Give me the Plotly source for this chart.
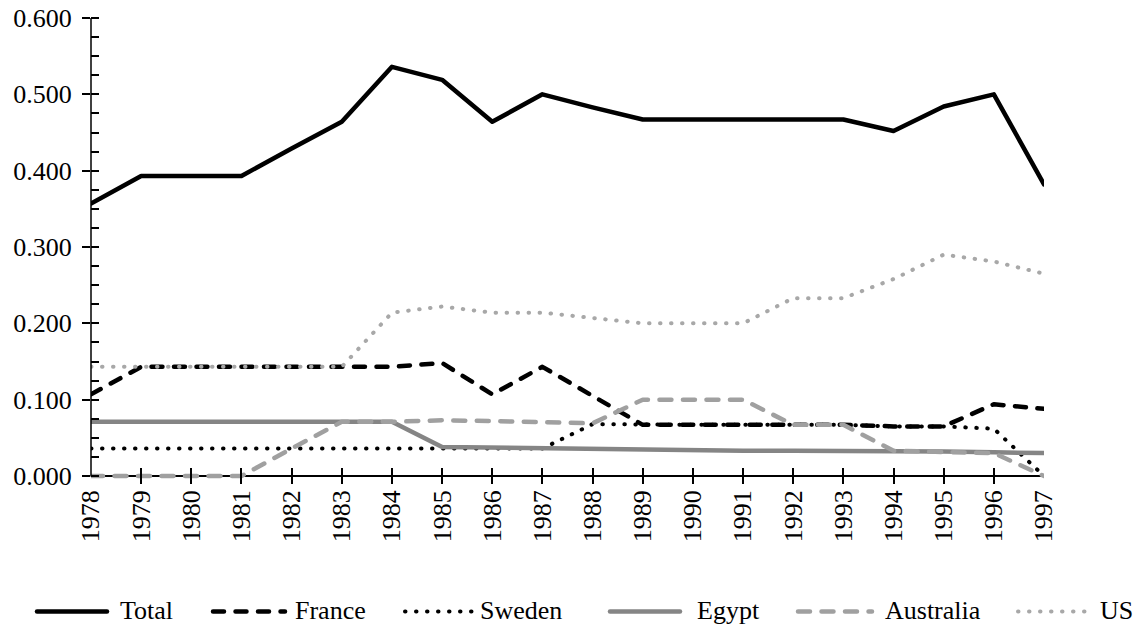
import plotly.graph_objects as go

# ---- data ----
years = list(range(1978, 1998))
total = [0.357, 0.393, 0.393, 0.393, 0.429, 0.464, 0.536, 0.519, 0.464, 0.500,
         0.483, 0.467, 0.467, 0.467, 0.467, 0.467, 0.452, 0.484, 0.500, 0.382]
france = [0.107, 0.143, 0.143, 0.143, 0.143, 0.143, 0.143, 0.148, 0.107, 0.143,
          0.105, 0.067, 0.067, 0.067, 0.067, 0.067, 0.065, 0.065, 0.094, 0.088]
sweden = [0.036, 0.036, 0.036, 0.036, 0.036, 0.036, 0.036, 0.036, 0.036, 0.036,
          0.068, 0.067, 0.067, 0.067, 0.067, 0.067, 0.065, 0.065, 0.062, 0.000]
egypt = [0.071, 0.071, 0.071, 0.071, 0.071, 0.071, 0.071, 0.038, 0.037, 0.036,
         0.035, 0.034, 0.033, 0.033, 0.033, 0.033, 0.032, 0.032, 0.031, 0.030]
australia = [0.000, 0.000, 0.000, 0.000, 0.036, 0.071, 0.071, 0.073, 0.072, 0.071,
             0.069, 0.100, 0.100, 0.100, 0.067, 0.067, 0.033, 0.032, 0.030, 0.000]
us = [0.143, 0.143, 0.143, 0.143, 0.143, 0.143, 0.214, 0.222, 0.214, 0.214,
      0.207, 0.200, 0.200, 0.200, 0.233, 0.233, 0.258, 0.290, 0.281, 0.265]

series_names = ["Total", "France", "Sweden", "Egypt", "Australia", "US"]
series_values = [total, france, sweden, egypt, australia, us]
y_ticks = [0.0, 0.1, 0.2, 0.3, 0.4, 0.5, 0.6]

# ---- styles (round caps are applied after drawing) ----
styles = {
    "Total": dict(color="#000000", width=4.5, dash="solid"),
    "France": dict(color="#000000", width=4.5, dash="11px,11.5px"),
    "Sweden": dict(color="#000000", width=4, dash="0.5px,10.5px"),
    "Egypt": dict(color="#858585", width=4.5, dash="solid"),
    "Australia": dict(color="#a0a0a0", width=4.5, dash="12px,11.5px"),
    "US": dict(color="#a8a8a8", width=4, dash="0.5px,10.5px"),
}

FONT = "Liberation Serif"
W, H = 1140, 632
L, R, T, B = 91, 96, 18, 148


def px_x(px):
    return (px - L) / (W - L - R)


def px_y(py):
    return (H - B - py) / (H - T - B)


ymin = -8 / ((476 - 18) / 0.6)  # extend below zero so zero-level lines are not clipped

fig = go.Figure()
for name, vals in zip(series_names, series_values):
    st = styles[name]
    fig.add_trace(go.Scatter(
        x=years, y=vals, mode="lines", name=name, showlegend=False,
        line=dict(color=st["color"], width=st["width"], dash=st["dash"]),
    ))

# custom legend (symbol lengths as in the reference)
legend_pos = {
    "Total": (37, 107, 118),
    "France": (213, 285, 293),
    "Sweden": (405, 472, 478),
    "Egypt": (610, 680, 695),
    "Australia": (798, 872, 883),
    "US": (1018, 1085, 1098),
}
shapes = []
annotations = []
for name in series_names:
    x0, x1, xt = legend_pos[name]
    st = styles[name]
    shapes.append(dict(type="line", xref="paper", yref="paper",
                       x0=px_x(x0), x1=px_x(x1), y0=px_y(611.5), y1=px_y(611.5),
                       line=dict(color=st["color"], width=st["width"], dash=st["dash"])))
    annotations.append(dict(text=name, xref="paper", yref="paper", x=px_x(xt), y=px_y(610),
                            xanchor="left", yanchor="middle", showarrow=False,
                            font=dict(family=FONT, size=26, color="black")))

# y axis line (from 0 to 0.6)
shapes.append(dict(type="line", xref="paper", yref="y", x0=0, x1=0, y0=0, y1=0.6,
                   line=dict(color="black", width=1.5)))

fig.update_layout(
    width=W, height=H,
    margin=dict(l=L, r=R, t=T, b=B, pad=0, autoexpand=False),
    paper_bgcolor="white", plot_bgcolor="white",
    font=dict(family=FONT, size=26, color="black"),
    showlegend=False,
    hovermode=False,
    shapes=shapes,
    annotations=annotations,
    xaxis=dict(
        range=[1978, 1997], showline=False, showgrid=False, zeroline=False,
        automargin=False,
        tickmode="array", tickvals=years, ticktext=[str(y) for y in years],
        tickangle=-90, ticks="inside", ticklen=16, tickwidth=1.5, tickcolor="black",
        tickfont=dict(family=FONT, size=26, color="black"),
    ),
    yaxis=dict(
        range=[ymin, 0.6], showline=False, showgrid=False, automargin=False,
        zeroline=True, zerolinecolor="black", zerolinewidth=1.5,
        tickmode="array", tickvals=y_ticks, ticktext=[f"{v:.3f}" for v in y_ticks],
        ticks="outside", ticklen=8, tickwidth=1.5, tickcolor="black",
        ticklabelstandoff=5,
        tickfont=dict(family=FONT, size=26, color="black"),
        minor=dict(ticks="inside", ticklen=8, tickwidth=1.5, tickcolor="black",
                   tickmode="linear", tick0=0, dtick=0.025, showgrid=False),
    ),
    yaxis2=dict(
        overlaying="y", side="left", range=[ymin, 0.6], showline=False, showgrid=False,
        automargin=False,
        zeroline=False, tickmode="array", tickvals=y_ticks, showticklabels=False,
        ticks="inside", ticklen=8, tickwidth=1.5, tickcolor="black",
    ),
)

post = (
    "document.body.style.margin='0';"
    "document.querySelectorAll('.scatterlayer path.js-line, .shapelayer path').forEach(function(p){"
    "p.style.strokeLinecap='round'; p.style.strokeLinejoin='round';});"
)
fig.write_html("out.html", config={"displayModeBar": False}, post_script=post)
